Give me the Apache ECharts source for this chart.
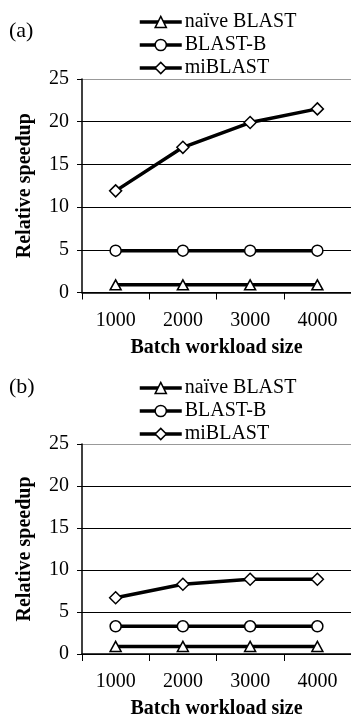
<!DOCTYPE html>
<html>
<head>
<meta charset="utf-8">
<script src="https://cdn.jsdelivr.net/npm/echarts@6/dist/echarts.min.js"></script>
<style>
  html, body { margin: 0; padding: 0; background: #fff; }
  #chart { width: 351px; height: 720px; }
</style>
</head>
<body>
<div id="chart"></div>
<script>
const categories = ['1000', '2000', '3000', '4000'];
const seriesNames = ['naïve BLAST', 'BLAST-B', 'miBLAST'];
const panelLabels = ['(a)', '(b)'];
const yTicks = [0, 5, 10, 15, 20, 25];

const naiveA = [0.9, 0.9, 0.9, 0.9];
const blastBA = [4.9, 4.9, 4.9, 4.9];
const miBlastA = [11.9, 17.0, 19.9, 21.5];

const naiveB = [0.9, 0.9, 0.9, 0.9];
const blastBB = [3.3, 3.3, 3.3, 3.3];
const miBlastB = [6.7, 8.3, 8.9, 8.9];

const FONT = '"Liberation Serif", "Times New Roman", serif';
const symbols = ['triangle', 'circle', 'diamond'];
const symbolSizes = [[11, 10], 11, 12];

const panels = [
  { top: 79, data: [naiveA, blastBA, miBlastA], labelTop: 20, legendTop: 12 },
  { top: 444, data: [naiveB, blastBB, miBlastB], labelTop: 376, legendTop: 378 }
];

const option = {
  animation: false,
  backgroundColor: '#fff',
  textStyle: { fontFamily: FONT, color: '#000' },
  title: panels.map((p, i) => ({
    text: panelLabels[i],
    left: 9, top: p.labelTop,
    padding: 0,
    textStyle: { fontFamily: FONT, fontSize: 22, fontWeight: 'normal', color: '#000' }
  })),
  legend: panels.map((p, i) => ({
    orient: 'vertical',
    left: 138, top: p.legendTop,
    padding: 0,
    itemWidth: 42, itemHeight: 14,
    itemGap: 3,
    data: seriesNames,
    lineStyle: { width: 3.5, color: '#000' },
    itemStyle: { color: '#fff', borderColor: '#000', borderWidth: 1.5 },
    textStyle: { fontFamily: FONT, fontSize: 20, color: '#000', padding: [0, 0, 0, -2] },
    selectedMode: false
  })),
  grid: panels.map(p => ({ left: 82, top: p.top, width: 280, height: 213.5, containLabel: false })),
  xAxis: panels.map((p, i) => ({
    type: 'category', gridIndex: i, data: categories, boundaryGap: true,
    name: 'Batch workload size', nameLocation: 'middle', nameGap: 45,
    nameTextStyle: { fontFamily: FONT, fontSize: 20, fontWeight: 'bold', color: '#000' },
    axisLine: { show: true, lineStyle: { color: '#000', width: 1.5 } },
    axisTick: { show: true, length: 7, inside: false, alignWithLabel: false, lineStyle: { color: '#000', width: 1 } },
    axisLabel: { fontFamily: FONT, fontSize: 20, color: '#000', margin: 18 },
    splitLine: { show: false }
  })),
  yAxis: panels.map((p, i) => ({
    type: 'value', gridIndex: i, min: yTicks[0], max: yTicks[yTicks.length - 1], interval: 5,
    name: 'Relative speedup', nameLocation: 'middle', nameGap: 47,
    nameTextStyle: { fontFamily: FONT, fontSize: 20, fontWeight: 'bold', color: '#000' },
    axisLine: { show: true, lineStyle: { color: '#000', width: 1.5 } },
    axisTick: { show: true, length: 5, inside: false, lineStyle: { color: '#000', width: 1 } },
    axisLabel: { fontFamily: FONT, fontSize: 20, color: '#000', margin: 13 },
    splitLine: { show: true, lineStyle: { color: ['#000', '#000', '#000', '#000', '#000', '#999'], width: 1 } }
  })),
  series: []
};

panels.forEach((p, i) => {
  p.data.forEach((vals, k) => {
    option.series.push({
      name: seriesNames[k],
      type: 'line',
      xAxisIndex: i, yAxisIndex: i,
      data: vals,
      symbol: symbols[k],
      symbolSize: symbolSizes[k],
      showAllSymbol: true,
      lineStyle: { color: '#000', width: 3.5 },
      itemStyle: { color: '#fff', borderColor: '#000', borderWidth: 1.5 },
      emphasis: { disabled: true },
      z: 3 + k
    });
  });
});

const chart = echarts.init(document.getElementById('chart'), null, { renderer: 'canvas' });
chart.setOption(option);
</script>
</body>
</html>
